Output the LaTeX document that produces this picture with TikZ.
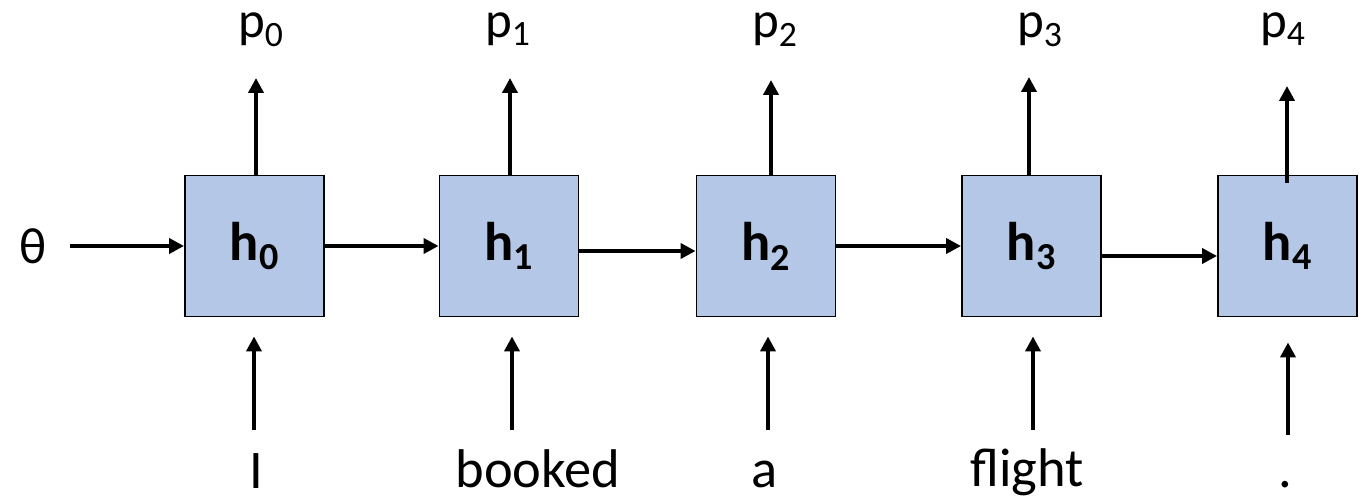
\documentclass[tikz,border=0pt]{standalone}
\usepackage{fontspec}
\setmainfont{Carlito}
\usetikzlibrary{arrows.meta}
\definecolor{cellblue}{HTML}{B4C7E7}
\tikzset{
  cell/.style={shape=rectangle,draw=black,fill=cellblue,line width=1.1pt,minimum width=2.78cm,minimum height=2.82cm,font=\fontsize{31}{36}\selectfont\bfseries},
  word/.style={anchor=base,inner sep=1pt,font=\fontsize{31}{36}\selectfont},
  link/.style={line width=2.2pt,-{Triangle[length=8.5pt,width=8.5pt]}}
}
\begin{document}
\begin{tikzpicture}[x=0.02cm,y=-0.02cm,font=\fontsize{29}{34}\selectfont]
    \useasboundingbox (0,0) rectangle (1371,499);

    \node[cell] (H0) at (254.5,246) {h\textsubscript{0}};
    \node[cell] (H1) at (509,246) {h\textsubscript{1}};
    \node[cell] (H2) at (766,246) {h\textsubscript{2}};
    \node[cell] (H3) at (1031.5,246) {h\textsubscript{3}};
    \node[cell] (H4) at (1287.5,246) {h\textsubscript{4}};

    \node (T) at (33,246) {θ};
    \coordinate (S) at (70,246);

    \node[anchor=base,inner sep=1pt] (P0) at (261,38) {p\textsubscript{0}};
    \node[anchor=base,inner sep=1pt] (P1) at (508,38) {p\textsubscript{1}};
    \node[anchor=base,inner sep=1pt] (P2) at (775,38) {p\textsubscript{2}};
    \node[anchor=base,inner sep=1pt] (P3) at (1040,38) {p\textsubscript{3}};
    \node[anchor=base,inner sep=1pt] (P4) at (1283,38) {p\textsubscript{4}};
    \coordinate (O0) at (256,78);
    \coordinate (O1) at (510,78);
    \coordinate (O2) at (771,80);
    \coordinate (O3) at (1029,77);
    \coordinate (O4) at (1287,86);

    \node[word] (W0) at (256,488) {I};
    \node[word] (W1) at (538,487) {booked};
    \node[word] (W2) at (765,487) {a};
    \node[word] (W3) at (1027,486) {flight};
    \node[word] (W4) at (1285,487) {.};
    \coordinate (I0) at (254,430);
    \coordinate (I1) at (512,430);
    \coordinate (I2) at (768,430);
    \coordinate (I3) at (1033,430);
    \coordinate (I4) at (1288,435);

    \path [link](S) edge (H0.west);
    \path [link](H0.east) edge (H1.west);
    \path [link]([yshift=-0.1cm]H1.east) edge ([yshift=-0.1cm]H2.west);
    \path [link](H2.east) edge (H3.west);
    \path [link]([yshift=-0.2cm]H3.east) edge ([yshift=-0.2cm]H4.west);

    \path [link](H0.north -| O0) edge (O0);
    \path [link](H1.north -| O1) edge (O1);
    \path [link](H2.north -| O2) edge (O2);
    \path [link](H3.north -| O3) edge (O3);
    \path [link](H4.north -| O4) edge[shorten <=-0.16cm] (O4);

    \path [link](I0) edge[shorten >=0.38cm] (I0 |- H0.south);
    \path [link](I1) edge[shorten >=0.38cm] (I1 |- H1.south);
    \path [link](I2) edge[shorten >=0.38cm] (I2 |- H2.south);
    \path [link](I3) edge[shorten >=0.38cm] (I3 |- H3.south);
    \path [link](I4) edge[shorten >=0.5cm] (I4 |- H4.south);

\end{tikzpicture}
\end{document}
